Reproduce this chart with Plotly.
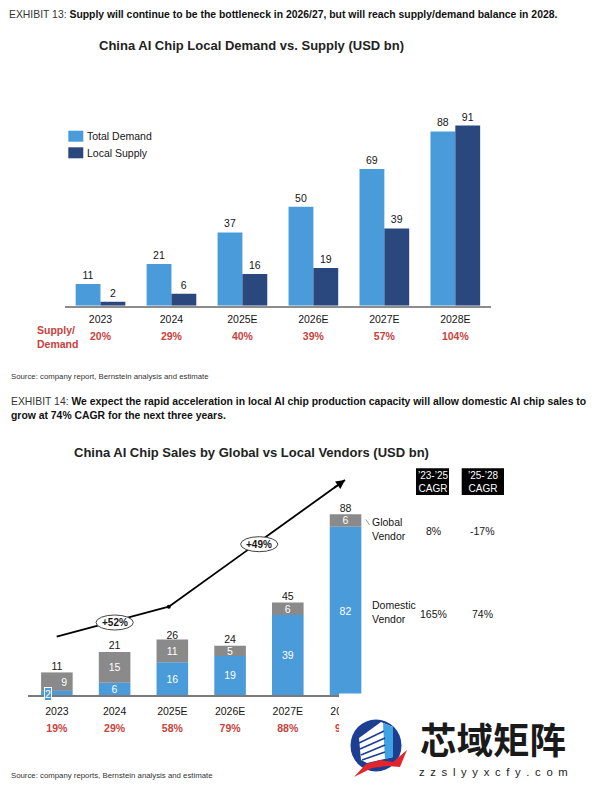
import plotly.graph_objects as go

W, H = 600, 793


def X(px):
    return px / W


def Y(py):
    return 1 - py / H


# ---------------- data ----------------
years = ["2023", "2024", "2025E", "2026E", "2027E", "2028E"]

# Exhibit 13
total_demand = [11, 21, 37, 50, 69, 88]
local_supply = [2, 6, 16, 19, 39, 91]
supply_demand = ["20%", "29%", "40%", "39%", "57%", "104%"]

# Exhibit 14
domestic_vendor = [2, 6, 16, 19, 39, 82]
global_vendor = [9, 15, 11, 5, 6, 6]
total_sales = [11, 21, 26, 24, 45, 88]
domestic_share = ["19%", "29%", "58%", "79%", "88%", "93%"]
growth_labels = ["+52%", "+49%"]
cagr_headers = ["’23-’25<br>CAGR", "’25-’28<br>CAGR"]
cagr_global = ["8%", "-17%"]
cagr_domestic = ["165%", "74%"]

# ---------------- style ----------------
LIGHT = "#4A9BD9"
NAVY = "#2A487D"
BLUE2 = "#4A9BD9"
GREY = "#8A8A8A"
RED = "#C8423C"
TXT = "#151515"
SANS = "Liberation Sans, Arial, sans-serif"
FS = 10.5
HFS = 10.4   # exhibit headers
SFS = 7.8    # source lines

fig = go.Figure()

# ---------- chart 1 ----------
fig.add_trace(go.Bar(
    x=years, y=total_demand, name="Total Demand", marker=dict(color=LIGHT, line=dict(width=0)),
    text=[str(v) for v in total_demand], textposition="outside", textangle=0,
    textfont=dict(size=FS, color=TXT), cliponaxis=False, offsetgroup="d",
    xaxis="x", yaxis="y", hoverinfo="skip"))
fig.add_trace(go.Bar(
    x=years, y=local_supply, name="Local Supply", marker=dict(color=NAVY, line=dict(width=0)),
    text=[str(v) for v in local_supply], textposition="outside", textangle=0,
    textfont=dict(size=FS, color=TXT), cliponaxis=False, offsetgroup="s",
    xaxis="x", yaxis="y", hoverinfo="skip"))
fig.add_trace(go.Scatter(
    x=years, y=[0.5] * len(years), mode="text", text=supply_demand,
    textfont=dict(size=FS, color=RED, family=SANS, weight="bold"),
    textposition="middle center", cliponaxis=False, xaxis="x", yaxis="y3", hoverinfo="skip"))

# ---------- chart 2 ----------
dom_text = [str(v) for v in domestic_vendor]
dom_text[0] = ""  # too small: labelled separately below
glob_text = [str(v) for v in global_vendor]
glob_text[0] = "\u00a0" * 5 + glob_text[0]
BW = 0.547
fig.add_trace(go.Bar(
    x=years, y=domestic_vendor, name="Domestic Vendor", marker=dict(color=BLUE2, line=dict(width=0)),
    text=dom_text, textposition="inside", insidetextanchor="middle", constraintext="none", textangle=0,
    textfont=dict(size=FS, color="white"), offsetgroup="v", width=BW, offset=-BW / 2,
    xaxis="x2", yaxis="y2", hoverinfo="skip"))
fig.add_trace(go.Bar(
    x=years, y=global_vendor, base=domestic_vendor, name="Global Vendor",
    marker=dict(color=GREY, line=dict(width=0)),
    text=glob_text, textposition="inside", insidetextanchor="middle", constraintext="none", textangle=0,
    textfont=dict(size=FS, color="white"), offsetgroup="v", width=BW, offset=-BW / 2,
    xaxis="x2", yaxis="y2", hoverinfo="skip"))
fig.add_trace(go.Scatter(
    x=years, y=total_sales, mode="text", text=[str(v) for v in total_sales],
    textposition="top center", textfont=dict(size=FS, color=TXT), cliponaxis=False,
    xaxis="x2", yaxis="y2", hoverinfo="skip"))
fig.add_trace(go.Scatter(
    x=years, y=[0.5] * len(years), mode="text", text=domestic_share,
    textfont=dict(size=FS, color=RED, family=SANS, weight="bold"),
    textposition="middle center", cliponaxis=False, xaxis="x2", yaxis="y4", hoverinfo="skip"))

hidden = dict(visible=False, showgrid=False, zeroline=False, fixedrange=True)

fig.update_layout(
    width=W, height=H, margin=dict(l=0, r=0, t=0, b=0),
    paper_bgcolor="white", plot_bgcolor="white",
    font=dict(family=SANS, size=FS, color=TXT),
    showlegend=False, barmode="group", bargap=0.3, bargroupgap=0,
    xaxis=dict(domain=[X(65), X(490.8)], range=[-0.5, 5.5], type="category", anchor="y",
               showline=True, linecolor="#8C8C8C", linewidth=1.5, showgrid=False,
               ticks="outside", ticklen=3, tickcolor="rgba(0,0,0,0)",
               tickfont=dict(size=FS, color=TXT), fixedrange=True),
    yaxis=dict(domain=[Y(305.7), Y(305.7 - 99 * 1.98)], range=[0, 99], anchor="x", **hidden),
    yaxis3=dict(domain=[Y(344), Y(330)], range=[0, 1], anchor="x", **hidden),
    xaxis2=dict(domain=[X(28), X(374.4)], range=[-0.5, 5.5], type="category", anchor="y2",
                showline=True, linecolor="#7A7A7A", linewidth=1.5, showgrid=False,
                ticks="outside", ticklen=6, tickcolor="rgba(0,0,0,0)",
                tickfont=dict(size=FS, color=TXT), fixedrange=True),
    yaxis2=dict(domain=[Y(695), Y(695 - 100 * 2.053)], range=[0, 100], anchor="x2", **hidden),
    yaxis4=dict(domain=[Y(736), Y(722)], range=[0, 1], anchor="x2", **hidden),
)

ann = []
shapes = []


def text(px, py, s, size=FS, color=TXT, xanchor="left", family=SANS, align="left", **kw):
    ann.append(dict(x=X(px), y=Y(py), xref="paper", yref="paper", text=s, showarrow=False,
                    xanchor=xanchor, yanchor="middle", align=align,
                    font=dict(size=size, color=color, family=family), **kw))


# headers & sources
text(7, 15, "<span style='color:#333'>EXHIBIT 13:</span> <b>Supply will continue to be the bottleneck in 2026/27, but will reach supply/demand balance in 2028.</b>",
     size=HFS, color="#111")
text(251.5, 46, "<b>China AI Chip Local Demand vs. Supply (USD bn)</b>", size=13, xanchor="center", color="#222")
text(9, 376, "Source: company report, Bernstein analysis and estimate", size=SFS, color="#333")
text(9, 401, "<span style='color:#333'>EXHIBIT 14:</span> <b>We expect the rapid acceleration in local AI chip production capacity will allow domestic AI chip sales to</b>",
     size=HFS, color="#111")
text(9, 415, "<b>grow at 74% CAGR for the next three years.</b>", size=HFS, color="#111")
text(251.4, 452.7, "<b>China AI Chip Sales by Global vs Local Vendors (USD bn)</b>", size=13, xanchor="center", color="#222")
text(9, 775, "Source: company reports, Bernstein analysis and estimate", size=SFS, color="#333")

# chart 1 legend
for (y0, col, lab) in [(130.7, LIGHT, "Total Demand"), (147.3, NAVY, "Local Supply")]:
    shapes.append(dict(type="rect", xref="paper", yref="paper", x0=X(68.3), x1=X(83.3),
                       y0=Y(y0 + 11), y1=Y(y0), fillcolor=col, line=dict(width=0)))
    text(85.5, y0 + 5.8, lab)
text(35, 337, "<b>Supply/<br>Demand</b>", color=RED)

# chart 2: small label for 2023 domestic
ann.append(dict(x=0, y=0, xref="x2", yref="y2", text="2", showarrow=False, xshift=-8.6, yshift=1,
                xanchor="center", yanchor="middle", bgcolor=BLUE2, bordercolor="white",
                borderwidth=1, borderpad=0, font=dict(size=FS, color="white")))

# growth line with arrow
P1, P2, P3 = (56.7, 636.7), (168.8, 606.7), (345, 480)
for a, b in [(P1, P2), (P2, P3)]:
    shapes.append(dict(type="line", xref="paper", yref="paper", x0=X(a[0]), y0=Y(a[1]),
                       x1=X(b[0]), y1=Y(b[1]), line=dict(color="black", width=1.8), layer="above"))
shapes.append(dict(type="circle", xref="paper", yref="paper", x0=X(P2[0] - 2), x1=X(P2[0] + 2),
                   y0=Y(P2[1] + 2), y1=Y(P2[1] - 2), fillcolor="black", line=dict(width=0), layer="above"))
ann.append(dict(x=X(P3[0]), y=Y(P3[1]), xref="paper", yref="paper", text="", showarrow=True,
                ax=-12.2, ay=8.8, arrowhead=2, arrowsize=1, arrowwidth=1.8, arrowcolor="black", standoff=0))
for (x0, x1, y0, y1), lab in zip([(96, 133.3, 615, 630), (240.6, 277.8, 536.7, 551.7)], growth_labels):
    shapes.append(dict(type="circle", xref="paper", yref="paper", x0=X(x0), x1=X(x1),
                       y0=Y(y1), y1=Y(y0), fillcolor="white", line=dict(color="#444", width=1), layer="above"))
    text((x0 + x1) / 2, (y0 + y1) / 2, "<b>" + lab + "</b>", size=10, xanchor="center")

# CAGR table
for (x0, x1), hdr in zip([(416, 449), (461.7, 504)], cagr_headers):
    shapes.append(dict(type="rect", xref="paper", yref="paper", x0=X(x0), x1=X(x1),
                       y0=Y(495), y1=Y(468.3), fillcolor="black", line=dict(width=0)))
    text((x0 + x1) / 2, 482, hdr, size=10, color="white", xanchor="center", align="center")
text(370, 529, "Global<br>Vendor")
text(370, 612, "Domestic<br>Vendor")
shapes.append(dict(type="line", xref="paper", yref="paper", x0=X(366), y0=Y(519.5), x1=X(369.5),
                   y1=Y(525), line=dict(color="#999", width=1)))
for cx, g, d in zip([433.5, 482.5], cagr_global, cagr_domestic):
    text(cx, 530.5, g, xanchor="center")
    text(cx, 614, d, xanchor="center")

# watermark block
shapes.append(dict(type="rect", xref="paper", yref="paper", x0=X(339), x1=1, y0=0, y1=Y(693.5),
                   fillcolor="white", line=dict(width=0), layer="above"))


def path(pts):
    return "M " + " L ".join(f"{X(a):.5f},{Y(b):.5f}" for a, b in pts) + " Z"


shapes.append(dict(type="circle", xref="paper", yref="paper", x0=X(350.5), x1=X(401.5),
                   y0=Y(771.5), y1=Y(719.5), fillcolor="#1C3F93", line=dict(width=0), layer="above"))
shapes.append(dict(type="path", xref="paper", yref="paper",
                   path=path([(359, 738), (381, 722), (393, 727), (393, 757), (367, 763), (361, 760)]),
                   fillcolor="white", line=dict(width=0), layer="above"))
shapes.append(dict(type="path", xref="paper", yref="paper",
                   path=path([(383, 723), (393, 727), (393, 757), (385, 759)]),
                   fillcolor="#3FA3E3", line=dict(width=0), layer="above"))
for (a, b) in [((359, 743), (384, 731)), ((360, 749), (385, 738)), ((361, 755), (385, 745)), ((362, 760), (385, 752))]:
    shapes.append(dict(type="line", xref="paper", yref="paper", x0=X(a[0]), y0=Y(a[1]),
                       x1=X(b[0]), y1=Y(b[1]), line=dict(color="#1C3F93", width=1.6), layer="above"))
shapes.append(dict(type="path", xref="paper", yref="paper",
                   path=path([(354, 777), (366, 764), (380, 760), (393, 762), (407, 750), (400, 767), (388, 766), (372, 768)]),
                   fillcolor="#E3262B", line=dict(width=0), layer="above"))
text(493.3, 738, "<b>芯域矩阵</b>", size=36.5, xanchor="center", family="Noto Sans CJK SC", color="#1a1a1a")
text(493.3, 772, "\u2002".join("zzslyyxcfy.com"), size=11.3, xanchor="center", color="#222")

fig.update_layout(annotations=ann, shapes=shapes)
fig.write_html("out.html", config={"displayModeBar": False},
               post_script="document.body.style.margin='0px';")
